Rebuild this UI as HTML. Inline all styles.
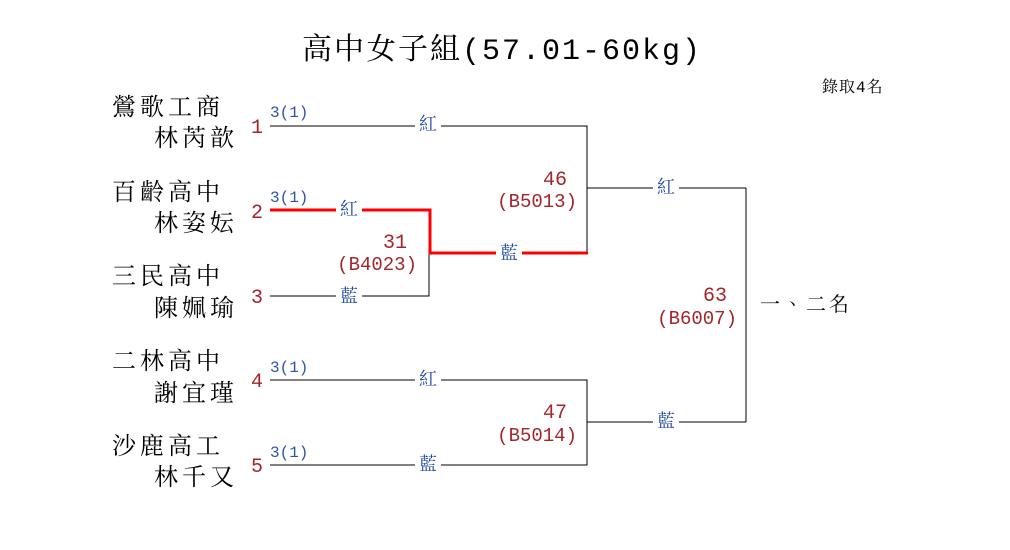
<!DOCTYPE html>
<html><head><meta charset="utf-8"><style>
body{margin:0;width:1010px;height:550px;background:#fff;position:relative;overflow:hidden;font-family:"Liberation Mono","Noto Serif CJK TC",serif;}
.t{position:absolute;white-space:nowrap;line-height:1;}
.s{margin-top:3px}
.n{font-size:24px;color:#000;letter-spacing:4px;margin-top:3px}
.num{font-size:20px;color:#a3262a;margin-top:3px}
.sm{font-size:16px;color:#2f53a3;margin-top:2px}
.c{font-size:18px;color:#1f48a0;background:#fff;padding:0 4px;transform:translate(-50%,-50%);margin-top:2px}
.lab{font-size:19px;color:#a3262a;text-align:right;margin-top:3px}
</style></head><body>
<svg width="1010" height="550" style="position:absolute;left:0;top:0">
<g stroke="#000" stroke-width="1" fill="none">
<polyline points="270,126 587,126 587,253"/>
<polyline points="270,296 429,296 429,253"/>
<line x1="587" y1="188" x2="746" y2="188"/>
<polyline points="270,380 587,380 587,465 270,465"/>
<line x1="587" y1="422" x2="746" y2="422"/>
<line x1="746" y1="188" x2="746" y2="422"/>
</g>
<polyline points="270,210 430,210 430,253 588,253" stroke="#f00" stroke-width="3" fill="none"/>
</svg>
<div class="t" style="left:302px;top:37px;font-size:30px;letter-spacing:2px">高中女子組(57.01-60kg)</div>
<div class="t" style="left:822px;top:80px;font-size:16px;letter-spacing:1px">錄取4名</div>

<div class="t n" style="left:112px;top:95px">鶯歌工商</div><div class="t n" style="left:154px;top:126px">林芮歆</div>
<div class="t n" style="left:112px;top:180px">百齡高中</div><div class="t n" style="left:154px;top:211px">林姿妘</div>
<div class="t n" style="left:112px;top:264px">三民高中</div><div class="t n" style="left:154px;top:296px">陳姵瑜</div>
<div class="t n" style="left:112px;top:349px">二林高中</div><div class="t n" style="left:154px;top:381px">謝宜瑾</div>
<div class="t n" style="left:112px;top:434px">沙鹿高工</div><div class="t n" style="left:154px;top:465px">林千又</div>

<div class="t num" style="left:251px;top:116px">1</div>
<div class="t num" style="left:251px;top:201px">2</div>
<div class="t num" style="left:251px;top:286px">3</div>
<div class="t num" style="left:251px;top:370px">4</div>
<div class="t num" style="left:251px;top:455px">5</div>

<div class="t sm" style="left:270px;top:103px">3(1)</div>
<div class="t sm" style="left:270px;top:188px">3(1)</div>
<div class="t sm" style="left:270px;top:358px">3(1)</div>
<div class="t sm" style="left:270px;top:443px">3(1)</div>

<div class="t c" style="left:428px;top:124px">紅</div>
<div class="t c" style="left:349px;top:209px">紅</div>
<div class="t c" style="left:349px;top:296px">藍</div>
<div class="t c" style="left:509px;top:253px">藍</div>
<div class="t c" style="left:666px;top:187px">紅</div>
<div class="t c" style="left:428px;top:379px">紅</div>
<div class="t c" style="left:428px;top:464px">藍</div>
<div class="t c" style="left:666px;top:421px">藍</div>

<div class="t lab" style="right:443px;top:168px;font-size:20px">46</div>
<div class="t lab" style="right:433px;top:190px">(B5013)</div>
<div class="t lab" style="right:603px;top:231px;font-size:20px">31</div>
<div class="t lab" style="right:593px;top:253px">(B4023)</div>
<div class="t lab" style="right:443px;top:401px;font-size:20px">47</div>
<div class="t lab" style="right:433px;top:424px">(B5014)</div>
<div class="t lab" style="right:283px;top:284px;font-size:20px">63</div>
<div class="t lab" style="right:273px;top:307px">(B6007)</div>
<div class="t" style="left:760px;top:297px;font-size:20px;letter-spacing:3px">一、二名</div>
</body></html>
